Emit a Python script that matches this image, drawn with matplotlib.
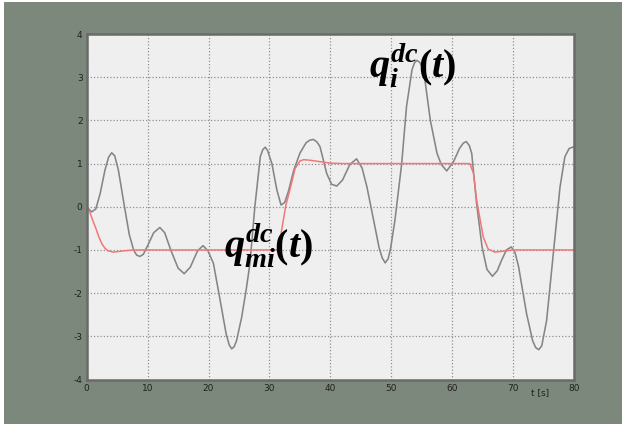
import matplotlib
matplotlib.use("Agg")
import matplotlib.pyplot as plt
from matplotlib.patches import Rectangle

# gray curve q_i^dc(t)
t_qi = [0.0, 0.8, 1.5, 2.2, 3.0, 3.6, 4.1, 4.6, 5.2, 6.2, 7.0, 7.7, 8.2, 8.75, 9.3,
        10.0, 11.0, 12.0, 12.8, 13.8, 15.0, 16.0, 17.0, 18.2, 19.1, 19.9, 20.8,
        21.9, 22.9, 23.4, 23.8, 24.2, 24.6, 25.45, 26.2, 26.8, 27.6, 28.5, 28.9,
        29.3, 29.7, 30.4, 31.2, 31.9, 32.5, 33.1, 34.0, 35.0, 36.0, 36.6, 37.2,
        37.8, 38.3, 39.4, 40.2, 41.05, 42.0, 43.2, 44.3, 45.2, 46.0, 47.1, 48.0,
        48.5, 49.0, 49.5, 49.9, 50.6, 51.7, 52.5, 53.4, 53.8, 54.2, 54.7, 55.3,
        56.4, 57.5, 58.2, 59.1, 60.2, 61.2, 61.8, 62.3, 62.8, 63.2, 64.0, 64.9,
        65.7, 66.6, 67.4, 68.1, 68.9, 69.7, 70.3, 70.9, 72.2, 73.2, 73.7, 74.2,
        74.7, 75.0, 75.5, 76.6, 77.7, 78.5, 79.2, 80.0]
v_qi = [0.00, -0.12, -0.05, 0.30, 0.85, 1.15, 1.25, 1.18, 0.85, 0.00, -0.65, -1.00,
        -1.12, -1.15, -1.10, -0.90, -0.60, -0.48, -0.60, -1.00, -1.42, -1.55, -1.40,
        -1.02, -0.90, -1.02, -1.31, -2.16, -2.95, -3.20, -3.29, -3.24, -3.10, -2.55,
        -1.90, -1.31, 0.00, 1.16, 1.32, 1.38, 1.30, 1.00, 0.40, 0.04, 0.10, 0.35,
        0.85, 1.24, 1.48, 1.54, 1.56, 1.50, 1.39, 0.77, 0.52, 0.48, 0.62, 0.98, 1.11,
        0.90, 0.46, -0.31, -0.95, -1.18, -1.30, -1.20, -0.95, -0.31, 0.99, 2.32, 3.17,
        3.33, 3.39, 3.34, 3.17, 2.01, 1.24, 0.98, 0.83, 1.04, 1.35, 1.47, 1.51, 1.42,
        1.24, 0.08, -0.93, -1.45, -1.61, -1.48, -1.24, -1.00, -0.93, -1.05, -1.39,
        -2.47, -3.10, -3.26, -3.31, -3.22, -3.00, -2.63, -1.08, 0.46, 1.16, 1.35, 1.39]

# red curve q_mi^dc(t)
t_qmi = [0.0, 0.5, 1.0, 1.4, 2.0, 2.5, 3.0, 3.5, 4.4, 5.5, 6.8, 8.0, 31.5, 32.0,
         32.7, 33.4, 34.2, 35.0, 35.6, 36.5, 38.0, 40.0, 42.0, 62.9, 63.5, 64.0,
         64.6, 65.1, 65.9, 67.0, 68.9, 70.0, 80.0]
v_qmi = [0.00, -0.12, -0.32, -0.46, -0.70, -0.86, -0.96, -1.02, -1.05, -1.03, -1.01,
         -1.00, -1.00, -0.54, 0.04, 0.42, 0.88, 1.06, 1.09, 1.08, 1.05, 1.01, 1.00,
         1.00, 0.77, 0.16, -0.31, -0.70, -0.98, -1.05, -1.02, -1.00, -1.00]

x_ticks = [0, 10, 20, 30, 40, 50, 60, 70, 80]
y_ticks = [-4, -3, -2, -1, 0, 1, 2, 3, 4]

plt.rcParams['mathtext.fontset'] = 'custom'
plt.rcParams['mathtext.it'] = 'Liberation Serif:bold:italic'
plt.rcParams['mathtext.rm'] = 'Liberation Serif:bold'
plt.rcParams['axes.unicode_minus'] = False

fig = plt.figure(figsize=(6.26, 4.30), dpi=100, facecolor='white')
fig.patches.append(Rectangle((4/626, 6/430), 618/626, 422/430, transform=fig.transFigure,
                             facecolor='#7c887c', edgecolor='none', zorder=0))

ax = fig.add_axes([0.1385, 0.1174, 0.7785, 0.8035])
ax.set_zorder(2)
ax.set_facecolor('#efefef')
ax.plot(t_qi, v_qi, color='#858585', lw=1.15)
ax.plot(t_qmi, v_qmi, color='#f07878', lw=1.1)

ax.set_xlim(0, 80)
ax.set_ylim(-4, 4)
ax.set_xticks(x_ticks)
ax.set_yticks(y_ticks)
ax.tick_params(length=0, labelsize=6.5, labelcolor='#202020', pad=3)
ax.grid(True, color='#909090', linestyle=(0, (1, 1.6)), linewidth=0.9)
for s in ax.spines.values():
    s.set_color('#6a6a6a')
    s.set_linewidth(1.8)

ax.text(0.93, -0.025, 't [s]', transform=ax.transAxes, fontsize=6.5,
        color='#202020', ha='center', va='top')

ax.text(46.3, 2.97, r'$q_i^{dc}\mathrm{(}t\mathrm{)}$', fontsize=29, color='black')
ax.text(22.6, -1.19, r'$q_{mi}^{dc}\mathrm{(}t\mathrm{)}$', fontsize=29, color='black')

fig.savefig('out.png', dpi=100, facecolor=fig.get_facecolor())
